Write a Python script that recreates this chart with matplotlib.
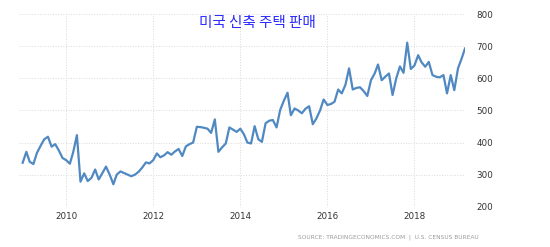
import matplotlib
matplotlib.use('Agg')
import matplotlib.pyplot as plt
import matplotlib.dates as mdates
import pandas as pd

# monthly new home sales (thousands), Jan 2009 - Mar 2019
sales = [337, 371, 340, 333, 368, 390, 410, 418, 387, 395, 375, 352,
         345, 334, 370, 423, 278, 304, 280, 290, 316, 285, 305, 325,
         300, 270, 300, 310, 305, 300, 295, 300, 309, 322, 338, 335,
         345, 366, 354, 360, 370, 362, 372, 380, 358, 388, 395, 400,
         449, 448, 446, 443, 430, 472, 371, 385, 397, 447, 440, 433,
         443, 425, 400, 397, 451, 410, 402, 460, 468, 470, 447, 501,
         530, 555, 485, 506, 500, 491, 505, 513, 457, 475, 500, 534,
         517, 520, 527, 565, 553, 580, 631, 565, 570, 572, 560, 545,
         594, 615, 643, 594, 605, 615, 548, 600, 637, 617, 711, 629,
         640, 672, 650, 636, 651, 610, 605, 603, 610, 553, 610, 563,
         631, 662, 693]
dates = pd.date_range('2009-01-01', periods=len(sales), freq='MS')
year_ticks = ['2010', '2012', '2014', '2016', '2018']
y_ticks = [200, 300, 400, 500, 600, 700, 800]

title = '미국 신축 주택 판매'
source = 'SOURCE: TRADINGECONOMICS.COM  |  U.S. CENSUS BUREAU'

fig = plt.figure(figsize=(5.5, 2.47), dpi=100)
ax = fig.add_axes([0.0345, 0.163, 0.811, 0.78])
ax.plot(dates, sales, color='#5089c2', linewidth=1.6)

ax.set_xlim(pd.Timestamp('2008-12-01'), dates[-1])
ax.set_ylim(200, 800)
ax.set_xticks([pd.Timestamp(y + '-01-01') for y in year_ticks])
ax.xaxis.set_major_formatter(mdates.DateFormatter('%Y'))
ax.set_yticks(y_ticks)
ax.yaxis.tick_right()
ax.tick_params(axis='both', length=0, labelsize=6.3, colors='#333333')
ax.tick_params(axis='y', pad=8)
ax.tick_params(axis='x', pad=4)
for s in ax.spines.values():
    s.set_visible(False)
ax.grid(True, color='#d9d9d9', linewidth=0.7, linestyle=':')

fig.text(0.468, 0.905, title, ha='center', va='center', fontsize=10.5,
         color='#2a2aff', family=['Noto Sans CJK KR', 'DejaVu Sans'])
fig.text(0.87, 0.04, source, ha='right', va='center', fontsize=4.2,
         color='#9a9a9a')

fig.savefig('out.png', dpi=100, facecolor='white')
